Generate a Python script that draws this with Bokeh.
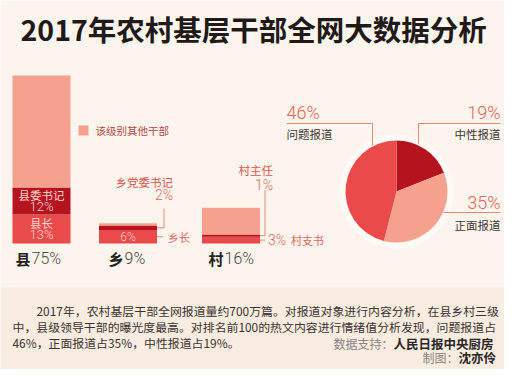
from bokeh.plotting import figure
from bokeh.models import Range1d
from bokeh.core.properties import value
from bokeh.embed import file_html
from bokeh.resources import INLINE
import math

# ---------------- data ----------------
levels = ["县", "乡", "村"]
level_totals = [75, 9, 16]
head_labels = ["县长", "乡长", "村支书"]
head_values = [13, 6, 3]
sec_labels = ["县委书记", "乡党委书记", "村主任"]
sec_values = [12, 2, 1]
other_label = "该级别其他干部"

sent_labels = ["中性报道", "正面报道", "问题报道"]
sent_values = [19, 35, 46]

title = "2017年农村基层干部全网大数据分析"
note_lines = [
    "2017年，农村基层干部全网报道量约700万篇。对报道对象进行内容分析，在县乡村三级",
    "中，县级领导干部的曝光度最高。对排名前100的热文内容进行情绪值分析发现，问题报道占",
    "46%，正面报道占35%，中性报道占19%。",
]
source_label, source_name = "数据支持：", "人民日报中央厨房"
author_label, author_name = "制图：", "沈亦伶"

other_values = [t - h - s for t, h, s in zip(level_totals, head_values, sec_values)]

# ---------------- style / layout ----------------
W, H = 504, 369
X0, Y0 = -8, 8           # view offset
BG = "#fcf5ee"
BOX = "#f9ece1"
C_OTHER = "#f5a18d"
C_SEC = "#b5131d"
C_HEAD = "#eb4a4b"
C_LBL = "#e0675a"
C_LINE = "#e58a78"
C_IN = "#fcd6cd"
SANS = "Noto Sans CJK SC"
THIN = "Roboto Light"

BAR_BASE = 134.0
PX_PER_PCT = 2.24
bar_x = [33, 119.5, 222.5]
bar_w = 58

p = figure(width=W, height=H, x_range=Range1d(X0, X0 + W), y_range=Range1d(Y0, Y0 + H),
           output_backend="svg", toolbar_location=None, min_border=0,
           x_axis_location=None, y_axis_location=None)
p.grid.visible = False
p.outline_line_color = None
p.background_fill_color = BG
p.border_fill_color = BG
p.extra_y_ranges = {"pct": Range1d((Y0 - BAR_BASE) / PX_PER_PCT, (Y0 + H - BAR_BASE) / PX_PER_PCT)}


def txt(x, y, s, size, color, font=SANS, style="normal", align="left",
        rng="default", yoff=0):
    p.text(x=[x], y=[y], text=[s], text_font=value(font),
           text_font_size=f"{size}px", text_color=color, text_align=align,
           text_baseline="middle", text_font_style=style, y_range_name=rng,
           y_offset=yoff)


# bottom note box
p.quad(left=X0, right=X0 + W, bottom=0, top=90, fill_color=BOX, line_color=None)

# title
txt(12, 349, title, 28.5, "#1f1a17", style="bold")

# ---------------- stacked bars ----------------
b1 = head_values
b2 = [h + s for h, s in zip(head_values, sec_values)]
b3 = [a + o for a, o in zip(b2, other_values)]
p.vbar(x=bar_x, width=bar_w, bottom=0, top=b1, fill_color=C_HEAD, line_color=None, y_range_name="pct")
p.vbar(x=bar_x, width=bar_w, bottom=b1, top=b2, fill_color=C_SEC, line_color=None, y_range_name="pct")
p.vbar(x=bar_x, width=bar_w, bottom=b2, top=b3, fill_color=C_OTHER, line_color=None, y_range_name="pct")

# legend for "other"
p.rect(x=[75], y=[50.5], width=10, height=10 / PX_PER_PCT, fill_color=C_OTHER,
       line_color=None, y_range_name="pct")
txt(87, 50.5, other_label, 10.5, "#b04a44", rng="pct")

# category labels
cat_x = [7, 100, 200]
for cx, lv, tot in zip(cat_x, levels, level_totals):
    txt(cx, -6.7, lv, 15, "#231f1c", style="bold", rng="pct")
    txt(cx + 16, -6.7, f"{tot}%", 16, "#4a4543", font=THIN, rng="pct")

# 县 inner labels
xm = bar_x[0]
txt(xm, head_values[0] + sec_values[0] / 2, sec_labels[0], 11.5, C_IN, align="center", rng="pct", yoff=-6)
txt(xm, head_values[0] + sec_values[0] / 2, f"{sec_values[0]}%", 13, C_IN, font=THIN, align="center", rng="pct", yoff=6)
txt(xm, head_values[0] / 2, head_labels[0], 11.5, C_IN, align="center", rng="pct", yoff=-6)
txt(xm, head_values[0] / 2, f"{head_values[0]}%", 13, C_IN, font=THIN, align="center", rng="pct", yoff=6)

# 乡 labels
x1 = bar_x[1]
edge1 = x1 + bar_w / 2
txt(x1, head_values[1] / 2, f"{head_values[1]}%", 12, C_IN, font=THIN, align="center", rng="pct")
mid_sec1 = head_values[1] + sec_values[1] / 2
p.line(x=[edge1, edge1 + 7, edge1 + 7], y=[mid_sec1, mid_sec1, mid_sec1 + 8.5],
       line_color=C_LINE, line_width=1, y_range_name="pct")
txt(edge1 + 16, 27.5, sec_labels[1], 11.5, "#d8564d", align="right", rng="pct")
txt(edge1 + 16, 21.7, f"{sec_values[1]}%", 14, C_LBL, font=THIN, align="right", rng="pct")
p.line(x=[edge1, edge1 + 6], y=[head_values[1] / 2] * 2, line_color=C_LINE, line_width=1, y_range_name="pct")
txt(edge1 + 11, head_values[1] / 2, head_labels[1], 11, C_LBL, rng="pct")

# 村 labels
x2 = bar_x[2]
edge2 = x2 + bar_w / 2
mid_sec2 = head_values[2] + sec_values[2] / 2
p.line(x=[edge2, edge2 + 5, edge2 + 5], y=[mid_sec2, mid_sec2, 23.7],
       line_color=C_LINE, line_width=1, y_range_name="pct")
txt(edge2 + 13, 32.6, sec_labels[2], 11.5, "#d8564d", align="right", rng="pct")
txt(edge2 + 13, 25.9, f"{sec_values[2]}%", 14, C_LBL, font=THIN, align="right", rng="pct")
p.line(x=[edge2, edge2 + 5], y=[head_values[2] / 2] * 2, line_color=C_LINE, line_width=1, y_range_name="pct")
txt(edge2 + 8, head_values[2] / 2, f"{head_values[2]}%", 14, C_LBL, font=THIN, rng="pct")
txt(edge2 + 31, head_values[2] / 2, head_labels[2], 11, C_LBL, rng="pct")

# ---------------- pie ----------------
PCX, PCY, PR = 388, 186, 51
p.scatter(x=[PCX], y=[PCY], size=2 * 57, fill_color="#fffaf5", line_color=None)
tot = sum(sent_values)
cum = 0
pie_colors = [C_SEC, C_OTHER, C_HEAD]
for v, c in zip(sent_values, pie_colors):
    a0 = math.pi / 2 - 2 * math.pi * cum / tot
    cum += v
    a1 = math.pi / 2 - 2 * math.pi * cum / tot
    p.wedge(x=[PCX], y=[PCY], radius=PR, radius_units="screen", start_angle=a0,
            end_angle=a1, direction="clock", fill_color=c, line_color=None)

# pie annotations
# 问题报道 (left)
p.line(x=[278, 364, 364], y=[254, 254, 232], line_color=C_LINE, line_width=1)
txt(278, 265, f"{sent_values[2]}%", 18, C_LBL, font=THIN)
txt(278, 244, sent_labels[2], 11.5, "#3c3836")
# 中性报道 (right top)
p.line(x=[492, 410, 410], y=[254, 254, 234], line_color=C_LINE, line_width=1)
txt(492, 265, f"{sent_values[0]}%", 18, C_LBL, font=THIN, align="right")
txt(492, 244, sent_labels[0], 11.5, "#3c3836", align="right")
# 正面报道 (right bottom)
p.line(x=[435, 492], y=[165, 165], line_color=C_LINE, line_width=1)
txt(492, 175, f"{sent_values[1]}%", 18, C_LBL, font=THIN, align="right")
txt(492, 153, sent_labels[1], 11.5, "#3c3836", align="right")

# ---------------- notes ----------------
txt(28, 67, note_lines[0], 11.9, "#3a3330")
txt(4, 51, note_lines[1], 11.9, "#3a3330")
txt(4, 35, note_lines[2], 11.9, "#3a3330")
txt(385, 34, source_label, 12, "#8a8380", align="right")
txt(385, 34, source_name, 12.5, "#2a2522", style="bold")
txt(450, 20, author_label, 12, "#8a8380", align="right")
txt(450, 20, author_name, 12.5, "#2a2522", style="bold")

open("out.html", "w").write(file_html(p, INLINE))
